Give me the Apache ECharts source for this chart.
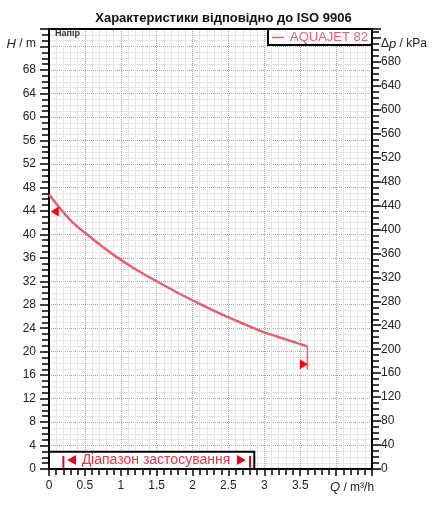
<!DOCTYPE html>
<html>
<head>
<meta charset="utf-8">
<script src="https://cdn.jsdelivr.net/npm/echarts@6/dist/echarts.min.js"></script>
<style>
html,body{margin:0;padding:0;background:#fff;}
#chart{width:447px;height:506px;}
</style>
</head>
<body>
<div id="chart"></div>
<script>
// ---- data ----
const titleText = 'Характеристики відповідно до ISO 9906';
const seriesName = 'AQUAJET 82';
const headLabel = 'Напір';
const rangeLabel = 'Діапазон застосування';
const xName = 'Q / m³/h';
const yLeftName = 'H / m';
const yRightName = 'Δp / kPa';

const qValues = [0, 0.3, 0.6, 0.9, 1.2, 1.5, 1.8, 2.1, 2.4, 2.7, 3.0, 3.3, 3.6];
const hValues = [46.8, 42.4, 39.3, 36.5, 34.1, 32.0, 30.0, 28.15, 26.4, 24.8, 23.3, 22.1, 20.9];
const endDropQ = [3.6, 3.6];
const endDropH = [20.9, 17.0];
const dutyMarkLeft = [0.08, 43.9];
const dutyMarkRight = [3.55, 17.85];
const rangeBarQ = [0.2, 2.8];
const rangeBarH = [0.2, 2.2];
const rangeArrowQ = [0.315, 2.68];
const rangeArrowH = 1.54;
const rangeTextPos = [1.49, 1.54];
const rangeBox = [[0, 0], [2.86, 2.95]];

const xMin = 0, xMax = 4.5, xStep = 0.5;
const hMin = 0, hMax = 75, hStep = 4;
const pMin = 0, pMax = 734.6, pStep = 40;

// ---- chart ----
const FONT = 'Liberation Sans, Arial, sans-serif';
const CURVE = '#e0636f';
const RED = '#ff0000';

// italicise the quantity symbol in axis names
const xNameRich = '{i|' + xName.charAt(0) + '}' + xName.slice(1);
const yLeftNameRich = '{i|' + yLeftName.charAt(0) + '}' + yLeftName.slice(1);
const yRightNameRich = yRightName.charAt(0) + '{i|' + yRightName.charAt(1) + '}' + yRightName.slice(2);

const chart = echarts.init(document.getElementById('chart'));

const curveData = qValues.map((q, i) => [q, hValues[i]]);
const dropData = endDropQ.map((q, i) => [q, endDropH[i]]);

const nameStyle = (align, padding) => ({
  align: align, verticalAlign: 'middle', padding: padding,
  fontSize: 12, color: '#222', fontFamily: FONT,
  rich: { i: { fontStyle: 'italic', fontSize: 13, fontFamily: FONT, color: '#222' } }
});

chart.setOption({
  animation: false,
  backgroundColor: '#fff',
  textStyle: { fontFamily: FONT },
  title: {
    text: titleText,
    left: 'center',
    top: 7,
    textStyle: { fontFamily: FONT, fontSize: 13, fontWeight: 'bold', color: '#111' }
  },
  graphic: [{
    type: 'text',
    left: 55,
    top: 29,
    z: 10,
    style: { text: headLabel, font: 'bold 9px ' + FONT, fill: '#333' }
  }],
  legend: {
    data: [seriesName],
    right: 75,
    top: 29,
    backgroundColor: '#fff',
    borderColor: '#000',
    borderWidth: 2,
    borderRadius: 0,
    padding: [2, 4, 1, 4],
    icon: 'rect',
    itemWidth: 12,
    itemHeight: 1.5,
    itemGap: 0,
    textStyle: { color: CURVE, fontSize: 13, fontFamily: FONT, padding: [0, 0, 0, 1] }
  },
  grid: { left: 49, right: 75, top: 29, bottom: 37, containLabel: false },
  xAxis: [{
    type: 'value', min: xMin, max: xMax, interval: xStep, position: 'bottom',
    name: xNameRich,
    nameLocation: 'end',
    nameGap: -42,
    nameTextStyle: Object.assign(nameStyle('left', [12, 0, 0, 0]), { verticalAlign: 'top' }),
    axisLine: { show: true, onZero: false, lineStyle: { color: '#000', width: 2 } },
    axisTick: { show: true, length: 7, lineStyle: { color: '#000', width: 1.5 } },
    minorTick: { show: true, splitNumber: 5, length: 6, lineStyle: { color: '#000', width: 1.5 } },
    splitLine: { show: true, lineStyle: { color: '#a6a6a6', type: 'dotted', width: 1 } },
    minorSplitLine: { show: true, lineStyle: { color: '#e6e6e6', width: 1 } },
    axisLabel: {
      margin: 11, fontSize: 12, color: '#222', fontFamily: FONT,
      formatter: v => (v < 4 ? String(v) : '')
    }
  }, {
    type: 'value', min: xMin, max: xMax, position: 'top',
    axisLine: { show: true, onZero: false, lineStyle: { color: '#000', width: 2 } },
    axisTick: { show: false }, axisLabel: { show: false }, splitLine: { show: false }
  }],
  yAxis: [{
    type: 'value', min: hMin, max: hMax, interval: hStep, position: 'left',
    name: yLeftNameRich,
    nameLocation: 'end',
    nameGap: -15,
    nameTextStyle: nameStyle('right', [0, 13, 0, 0]),
    axisLine: { show: true, onZero: false, lineStyle: { color: '#000', width: 2 } },
    axisTick: { show: true, length: 9, lineStyle: { color: '#000', width: 1.5 } },
    minorTick: { show: true, splitNumber: 4, length: 7, lineStyle: { color: '#000', width: 1.5 } },
    splitLine: { show: true, lineStyle: { color: '#a6a6a6', type: 'dotted', width: 1 } },
    minorSplitLine: { show: true, lineStyle: { color: '#e6e6e6', width: 1 } },
    axisLabel: {
      margin: 13, fontSize: 12, color: '#222', fontFamily: FONT,
      formatter: v => ((v % 4 === 0 && v < 72) ? String(v) : '')
    }
  }, {
    type: 'value', min: pMin, max: pMax, interval: pStep, position: 'right',
    name: yRightNameRich,
    nameLocation: 'end',
    nameGap: -15,
    nameTextStyle: nameStyle('left', [0, 0, 0, 9]),
    axisLine: { show: true, onZero: false, lineStyle: { color: '#000', width: 2 } },
    axisTick: { show: true, length: 9, lineStyle: { color: '#000', width: 1.5 } },
    minorTick: { show: true, splitNumber: 4, length: 7, lineStyle: { color: '#000', width: 1.5 } },
    splitLine: { show: false },
    minorSplitLine: { show: false },
    axisLabel: {
      margin: 9, fontSize: 12, color: '#222', fontFamily: FONT,
      formatter: v => ((v % 40 === 0 && v <= 680) ? String(v) : '')
    }
  }],
  series: [{
    name: seriesName,
    type: 'line',
    xAxisIndex: 0, yAxisIndex: 0,
    data: curveData,
    smooth: 0.3,
    showSymbol: false,
    z: 2,
    itemStyle: { color: CURVE },
    lineStyle: { color: CURVE, width: 2.5 },
    markArea: {
      silent: true,
      itemStyle: { color: '#fff', borderColor: '#000', borderWidth: 2 },
      data: [[{ coord: rangeBox[0] }, { coord: rangeBox[1] }]]
    }
  }, {
    name: 'drop',
    type: 'line',
    data: dropData,
    showSymbol: false,
    z: 2,
    lineStyle: { color: CURVE, width: 1.5 }
  }, {
    name: 'bar1',
    type: 'line',
    data: [[rangeBarQ[0], rangeBarH[0]], [rangeBarQ[0], rangeBarH[1]]],
    showSymbol: false,
    z: 3,
    lineStyle: { color: '#e8001c', width: 2 }
  }, {
    name: 'bar2',
    type: 'line',
    data: [[rangeBarQ[1], rangeBarH[0]], [rangeBarQ[1], rangeBarH[1]]],
    showSymbol: false,
    z: 3,
    lineStyle: { color: '#e8001c', width: 2 }
  }, {
    name: 'duty',
    type: 'scatter',
    symbol: 'triangle',
    symbolSize: [10, 8],
    z: 4,
    itemStyle: { color: RED, opacity: 1 },
    data: [
      { value: dutyMarkLeft, symbolRotate: 90 },
      { value: dutyMarkRight, symbolRotate: -90 }
    ]
  }, {
    name: 'rangeArrows',
    type: 'scatter',
    symbol: 'triangle',
    symbolSize: [10, 9],
    z: 4,
    itemStyle: { color: '#e8001c', opacity: 1 },
    data: [
      { value: [rangeArrowQ[0], rangeArrowH], symbolRotate: 90 },
      { value: [rangeArrowQ[1], rangeArrowH], symbolRotate: -90 }
    ]
  }, {
    name: 'rangeText',
    type: 'scatter',
    symbolSize: 0,
    z: 5,
    data: [rangeTextPos],
    label: {
      show: true, position: 'inside', formatter: rangeLabel,
      color: '#e8001c', fontSize: 14, fontFamily: FONT
    }
  }]
});
</script>
</body>
</html>
